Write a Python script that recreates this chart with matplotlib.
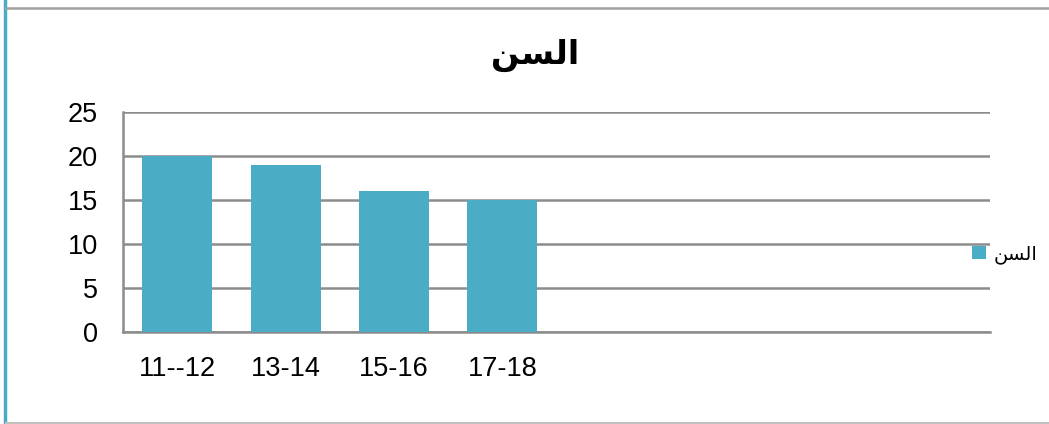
import matplotlib
matplotlib.use('Agg')
import matplotlib.pyplot as plt
from matplotlib.patches import Patch
from matplotlib.lines import Line2D

# Arabic in presentation forms (matplotlib does no shaping), visual order
titulo = '\uFEE6\uFEB4\uFEDF\uFE8D'  # السن

categorias = ['11--12', '13-14', '15-16', '17-18', '', '', '', '']
valores = [20, 19, 16, 15, 0, 0, 0, 0]
ticks_y = [0, 5, 10, 15, 20, 25]

color_barra = '#4BACC6'
color_rejilla = '#8C8C8C'

fig = plt.figure(figsize=(10.49, 4.24), dpi=100)
ax = fig.add_axes([123 / 1049, 1 - 332 / 424, 867 / 1049, 220 / 424])

x = list(range(len(categorias)))
ax.bar(x, valores, width=0.645, color=color_barra, zorder=3)

ax.set_xlim(-0.5, len(categorias) - 0.5)
ax.set_ylim(0, 25)
ax.set_yticks(ticks_y)
ax.set_xticks(x)
ax.set_xticklabels(categorias, fontsize=19.5, family='Liberation Sans')
ax.set_yticklabels([str(t) for t in ticks_y], fontsize=19.5, family='Liberation Sans')
ax.tick_params(axis='both', length=0)
ax.tick_params(axis='x', pad=17)
ax.tick_params(axis='y', pad=18)

ax.yaxis.grid(True, color=color_rejilla, linewidth=1.8, zorder=0)
for lado in ['top', 'right']:
    ax.spines[lado].set_visible(False)
ax.spines['left'].set_color(color_rejilla)
ax.spines['left'].set_linewidth(1.8)
ax.spines['bottom'].set_color(color_rejilla)
ax.spines['bottom'].set_linewidth(1.8)

fig.text(535 / 1049, 1 - 55 / 424, titulo, fontsize=24, fontweight='bold',
         family='DejaVu Sans', ha='center', va='center')

# leyenda
fig.legend(handles=[Patch(facecolor=color_barra, label=titulo)],
           loc='center left', bbox_to_anchor=(972 / 1049, 1 - 254 / 424),
           frameon=False, prop={'family': 'DejaVu Sans', 'size': 14},
           borderpad=0, borderaxespad=0,
           handlelength=0.7, handleheight=0.7, handletextpad=0.4)

# marco del gráfico (recortado)
fig.add_artist(Line2D([4.5 / 1049, 4.5 / 1049], [0, 1], color='#4BACC6', linewidth=2.5))
fig.add_artist(Line2D([6 / 1049, 1], [1 - 8 / 424, 1 - 8 / 424], color='#A0A0A0', linewidth=1.8))
fig.add_artist(Line2D([6 / 1049, 1], [1 - 423 / 424, 1 - 423 / 424], color='#C0C0C0', linewidth=1.5))

fig.savefig('out.png', dpi=100)
